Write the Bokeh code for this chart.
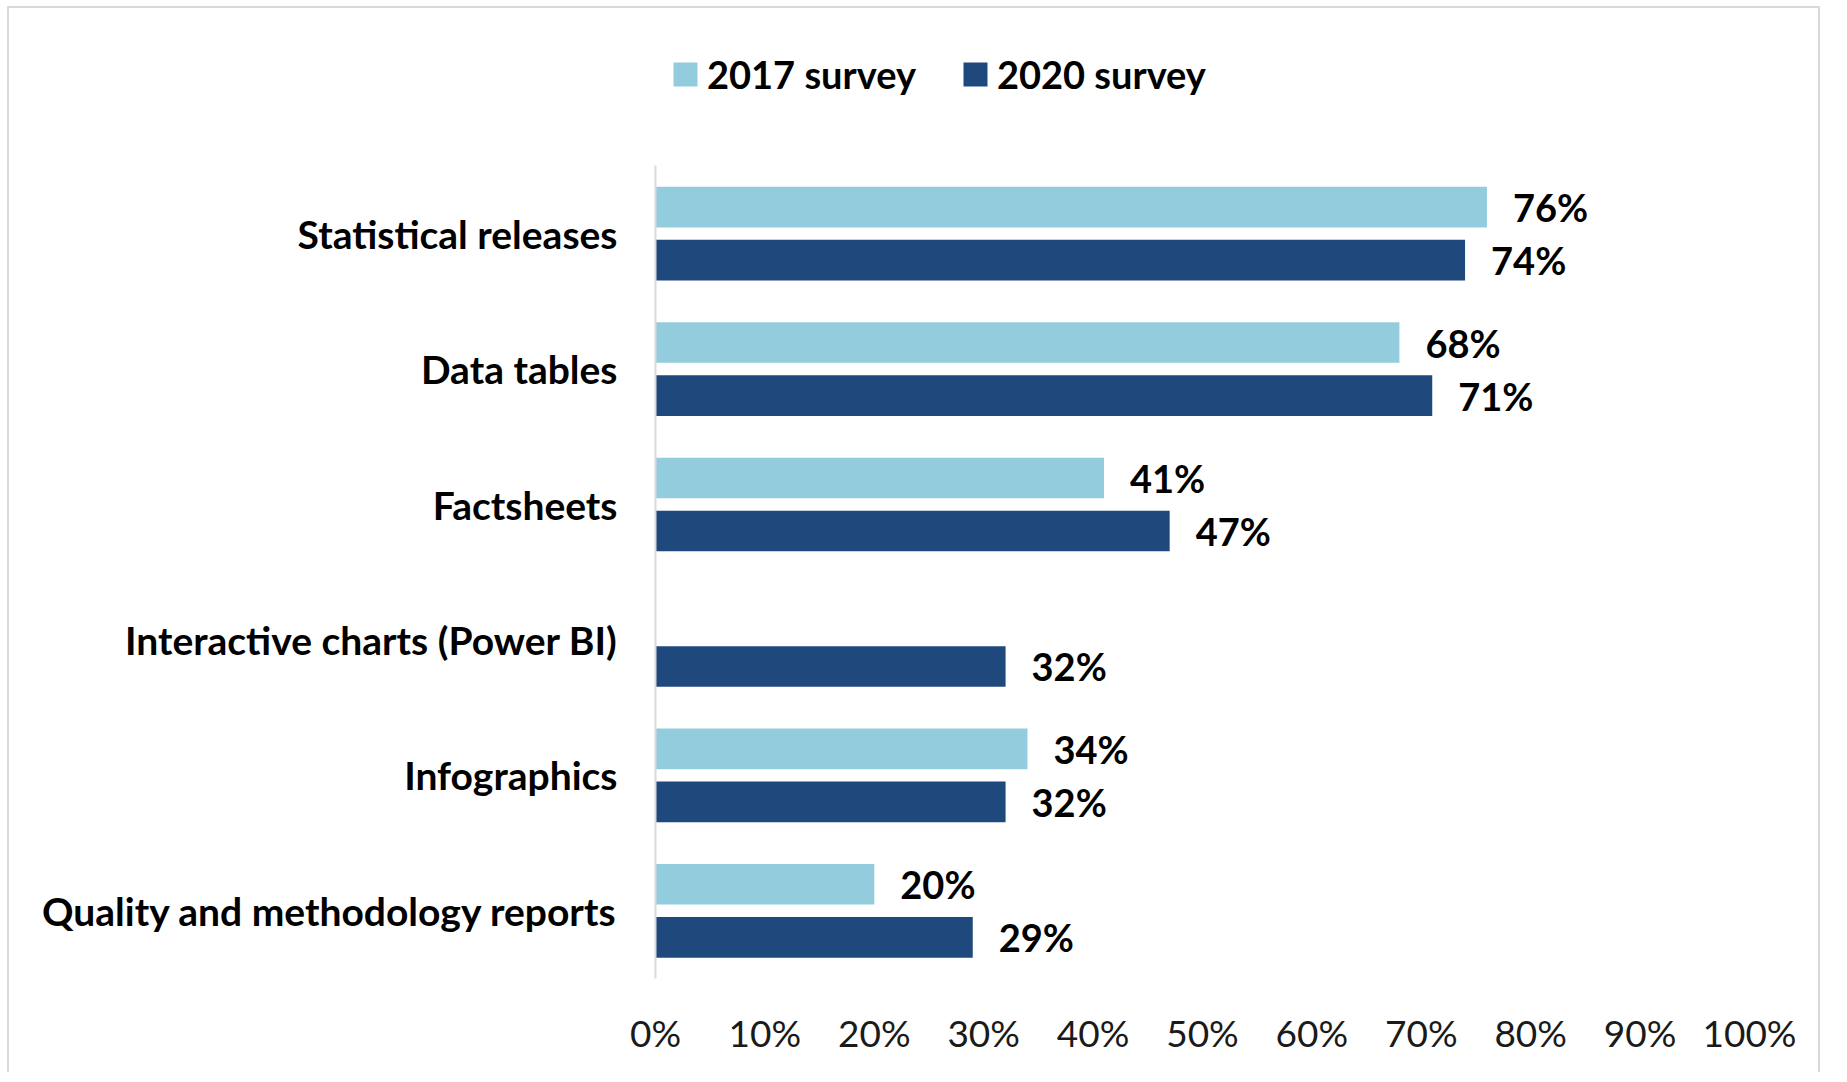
from bokeh.plotting import figure
from bokeh.models import (ColumnDataSource, FactorRange, Range1d, FixedTicker,
                          NumeralTickFormatter, Legend, LegendItem)
from bokeh.transform import dodge
from bokeh.core.properties import value
from bokeh.embed import file_html
from bokeh.resources import INLINE

# ---- data ----
categories = ["Statistical releases", "Data tables", "Factsheets",
              "Interactive charts (Power BI)", "Infographics",
              "Quality and methodology reports"]
survey_2017 = [0.76, 0.68, 0.41, None, 0.34, 0.20]
survey_2020 = [0.74, 0.71, 0.47, 0.32, 0.32, 0.29]
series_names = ["2017 survey", "2020 survey"]
x_ticks = [0.0, 0.1, 0.2, 0.3, 0.4, 0.5, 0.6, 0.7, 0.8, 0.9, 1.0]

FONT = "Lato"
C17 = "#93CDDD"
C20 = "#1F497D"


def make_source(vals):
    cats = [c for c, v in zip(categories, vals) if v is not None]
    vs = [v for v in vals if v is not None]
    labels = [f"{round(v * 100)}%" for v in vs]
    return ColumnDataSource(dict(cat=cats, val=vs, lab=labels))


src17 = make_source(survey_2017)
src20 = make_source(survey_2020)

# an empty factor on top leaves room for the legend inside the frame
y_factors = list(reversed(categories)) + [" "]

p = figure(width=1813, height=1066, output_backend="svg", toolbar_location=None,
           title=None,
           y_range=FactorRange(factors=y_factors, range_padding=0),
           x_range=Range1d(0, 1),
           min_border_left=646, min_border_right=73, min_border_top=22,
           min_border_bottom=96)
p.styles = {"border-top": "2px solid #d9d9d9", "border-left": "2px solid #d9d9d9",
            "border-right": "2px solid #d9d9d9",
            "margin-left": "7px", "margin-top": "6px"}

off = 0.196
bh = 0.30
r17 = p.hbar(y=dodge("cat", off, range=p.y_range), right="val", left=0, height=bh,
             source=src17, fill_color=C17, line_color=None)
r20 = p.hbar(y=dodge("cat", -off, range=p.y_range), right="val", left=0, height=bh,
             source=src20, fill_color=C20, line_color=None)

for src, o in ((src17, off), (src20, -off)):
    p.text(x="val", y=dodge("cat", o, range=p.y_range), text="lab", source=src,
           x_offset=26, text_baseline="middle", text_align="left",
           text_font=value(FONT), text_font_style="bold",
           text_font_size="38px", text_color="#000000")

# axes
p.xgrid.grid_line_color = None
p.ygrid.grid_line_color = None
p.outline_line_color = None

xa = p.xaxis[0]
xa.ticker = FixedTicker(ticks=x_ticks)
xa.formatter = NumeralTickFormatter(format="0%")
xa.axis_line_color = None
xa.major_tick_line_color = None
xa.minor_tick_line_color = None
xa.major_tick_out = 0
xa.major_label_standoff = 31
xa.major_label_text_font = FONT
xa.major_label_text_font_size = "37px"
xa.major_label_text_color = "#1a1a1a"

ya = p.yaxis[0]
ya.bounds = (0, len(categories))
ya.axis_line_color = "#d9d9d9"
ya.axis_line_width = 2
ya.major_tick_line_color = None
ya.minor_tick_line_color = None
ya.major_tick_out = 0
ya.major_label_standoff = 38
ya.major_label_text_font = FONT
ya.major_label_text_font_style = "bold"
ya.major_label_text_font_size = "39px"
ya.major_label_text_color = "#000000"

legend = Legend(items=[LegendItem(label=series_names[0], renderers=[r17]),
                       LegendItem(label=series_names[1], renderers=[r20])],
                orientation="horizontal", location=(15, 881),
                border_line_color=None, background_fill_alpha=0,
                label_text_font=FONT, label_text_font_style="bold",
                label_text_font_size="38px", label_text_color="#000000",
                glyph_width=30, glyph_height=30, spacing=44, label_standoff=7,
                padding=0, margin=0)
p.add_layout(legend)

open("out.html", "w").write(file_html(p, INLINE))
